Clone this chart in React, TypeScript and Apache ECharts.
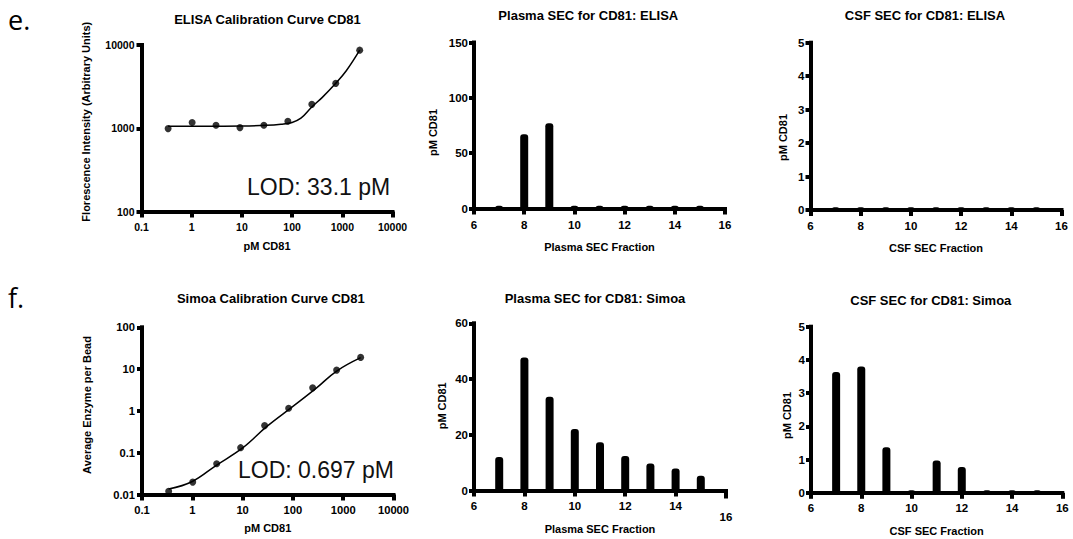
import React, { useEffect, useRef } from "react";
import * as echarts from "echarts";

// ---- Calibration curves ----
const concentrations = [0.339, 1.02, 3.05, 9.14, 27.4, 82.3, 247, 741, 2222];
const elisaSignal = [990, 1170, 1086, 1018, 1086, 1213, 1937, 3460, 8670];
const elisaFitConc = [0.339, 1, 3, 10, 30, 60, 100, 150, 247, 400, 741, 1200, 2222];
const elisaFitSignal = [1055, 1056, 1058, 1063, 1085, 1120, 1175, 1320, 1800, 2350, 3460, 4900, 8670];

const simoaSignal = [0.012, 0.0198, 0.0545, 0.132, 0.445, 1.16, 3.56, 9.46, 19.05];
const simoaFitConc = [0.339, 1, 3, 10, 30, 100, 300, 741, 2222];
const simoaFitSignal = [0.0135, 0.0205, 0.05, 0.13, 0.42, 1.28, 3.6, 9.0, 18.8];

// ---- SEC fractions ----
const fractions = [7, 8, 9, 10, 11, 12, 13, 14, 15];
const plasmaElisa = [2.5, 67, 77, 2.5, 2.5, 2.5, 2.5, 2.5, 2.5];
const csfElisa = [0.08, 0.08, 0.08, 0.08, 0.08, 0.08, 0.08, 0.08, 0.08];
const plasmaSimoa = [12, 47.7, 33.6, 22.1, 17.3, 12.4, 9.7, 7.9, 5.3];
const csfSimoa = [3.64, 3.8, 1.37, 0.08, 0.97, 0.78, 0.08, 0.08, 0.08];

const titles = [
  "ELISA Calibration Curve CD81",
  "Plasma SEC for CD81: ELISA",
  "CSF SEC for CD81: ELISA",
  "Simoa Calibration Curve CD81",
  "Plasma SEC for CD81: Simoa",
  "CSF SEC for CD81: Simoa",
];
const yNames = [
  "Florescence Intensity (Arbitrary Units)",
  "pM CD81",
  "pM CD81",
  "Average Enzyme per Bead",
  "pM CD81",
  "pM CD81",
];
const xNames = ["pM CD81", "Plasma SEC Fraction", "CSF SEC Fraction", "pM CD81", "Plasma SEC Fraction", "CSF SEC Fraction"];
const lodLabels = ["LOD: 33.1 pM", "LOD: 0.697 pM"];
const panelLabels = ["e.", "f."];

const FONT = "Liberation Sans";

export default function App() {
  const ref = useRef<HTMLDivElement>(null);
  useEffect(() => {
    if (!ref.current) return;
    const chart = echarts.init(ref.current, null, { renderer: "svg" });

    const grids = [
      { left: 141.5, top: 45, width: 251, height: 166.5 },
      { left: 474, top: 42.5, width: 251, height: 166 },
      { left: 810.5, top: 42.7, width: 251, height: 167.3 },
      { left: 142, top: 327.3, width: 251.5, height: 167.2 },
      { left: 474, top: 323.3, width: 252, height: 167.2 },
      { left: 811, top: 326.7, width: 251.3, height: 166.1 },
    ];
    const xGaps = [29, 32.7, 32.8, 27.7, 33.3, 32.5];
    const tickFont = [10.5, 11.5, 11.5, 11.2, 11.5, 11.5];

    const mkLine = () => ({ show: true, onZero: false, lineStyle: { color: "#000", width: 4, type: "solid" as const, cap: "square" as const } });
    const mkTick = (len: number) => ({ show: true, inside: false, length: len, lineStyle: { color: "#000", width: 4, type: "solid" as const } });
    const fmtNum = (v: number) => String(parseFloat(Number(v).toPrecision(6)));

    const xAxes: any[] = grids.map((_, i) => {
      const isLog = i === 0 || i === 3;
      const base: any = {
        gridIndex: i,
        position: "bottom",
        name: xNames[i],
        nameLocation: "middle",
        nameGap: xGaps[i],
        nameTextStyle: { fontFamily: FONT, fontWeight: "bold", fontSize: 11, color: "#000" },
        axisLine: mkLine(),
        axisTick: mkTick(6),
        splitLine: { show: false },
        axisLabel: {
          fontFamily: FONT,
          fontWeight: "bold",
          fontSize: tickFont[i],
          color: "#000",
          margin: i < 3 ? 10 : 9.5,
          hideOverlap: false,
          formatter: (v: number) => (i === 4 && v === 16 ? "" : fmtNum(v)),
        },
      };
      if (isLog) return { ...base, type: "log", logBase: 10, min: 0.1, max: 10000 };
      return { ...base, type: "value", min: 6, max: 16, interval: 2 };
    });

    const yAxes: any[] = grids.map((_, i) => {
      const base: any = {
        gridIndex: i,
        position: "left",
        axisLine: mkLine(),
        axisTick: mkTick(5),
        splitLine: { show: false },
        axisLabel: {
          fontFamily: FONT,
          fontWeight: "bold",
          fontSize: tickFont[i],
          color: "#000",
          margin: i === 0 || i === 3 ? 7 : 6,
          hideOverlap: false,
          formatter: (v: number) => fmtNum(v),
        },
      };
      if (i === 0) return { ...base, type: "log", logBase: 10, min: 100, max: 10000 };
      if (i === 3) return { ...base, type: "log", logBase: 10, min: 0.01, max: 100 };
      if (i === 1) return { ...base, type: "value", min: 0, max: 150, interval: 50 };
      if (i === 4) return { ...base, type: "value", min: 0, max: 60, interval: 20 };
      return { ...base, type: "value", min: 0, max: 5, interval: 1 };
    });

    const barSeries = (idx: number, values: number[]) => ({
      type: "bar",
      xAxisIndex: idx,
      yAxisIndex: idx,
      barWidth: 8,
      z: 1,
      itemStyle: { color: "#000", borderRadius: [3, 3, 0, 0] },
      data: fractions.map((f, k) => [f, values[k]]),
    });

    const series: any[] = [
      {
        type: "line",
        xAxisIndex: 0,
        yAxisIndex: 0,
        smooth: 0.4,
        symbol: "none",
        lineStyle: { color: "#000", width: 1.5 },
        data: elisaFitConc.map((c, k) => [c, elisaFitSignal[k]]),
      },
      {
        type: "scatter",
        xAxisIndex: 0,
        yAxisIndex: 0,
        symbolSize: 7,
        itemStyle: { color: "#000" },
        data: concentrations.map((c, k) => [c, elisaSignal[k]]),
      },
      barSeries(1, plasmaElisa),
      barSeries(2, csfElisa),
      {
        type: "line",
        xAxisIndex: 3,
        yAxisIndex: 3,
        smooth: 0.4,
        symbol: "none",
        lineStyle: { color: "#000", width: 1.5 },
        data: simoaFitConc.map((c, k) => [c, simoaFitSignal[k]]),
      },
      {
        type: "scatter",
        xAxisIndex: 3,
        yAxisIndex: 3,
        symbolSize: 7,
        itemStyle: { color: "#000" },
        data: concentrations.map((c, k) => [c, simoaSignal[k]]),
      },
      barSeries(4, plasmaSimoa),
      barSeries(5, csfSimoa),
    ];

    const titlePos = [
      [267.5, 19],
      [588.3, 15],
      [925, 15],
      [270.8, 298.3],
      [595, 298],
      [930.8, 300],
    ];
    const yNamePos = [
      [86, 121.7],
      [433, 132.5],
      [783, 137.5],
      [87, 405],
      [442, 405.8],
      [787, 415.5],
    ];

    const graphic: any[] = [];
    titles.forEach((t, i) => {
      graphic.push({
        type: "text",
        x: titlePos[i][0],
        y: titlePos[i][1],
        style: { text: t, fill: "#000", fontFamily: FONT, fontWeight: "bold", fontSize: 13, align: "center", verticalAlign: "middle" },
      });
    });
    yNames.forEach((t, i) => {
      graphic.push({
        type: "text",
        x: yNamePos[i][0],
        y: yNamePos[i][1],
        rotation: Math.PI / 2,
        style: { text: t, fill: "#000", fontFamily: FONT, fontWeight: "bold", fontSize: 11, align: "center", verticalAlign: "middle" },
      });
    });
    graphic.push({
      type: "text",
      x: 247,
      y: 187,
      style: { text: lodLabels[0], fill: "#111", fontFamily: FONT, fontSize: 23, align: "left", verticalAlign: "middle" },
    });
    graphic.push({
      type: "text",
      x: 238,
      y: 470,
      style: { text: lodLabels[1], fill: "#111", fontFamily: FONT, fontSize: 23, align: "left", verticalAlign: "middle" },
    });
    graphic.push({
      type: "text",
      x: 8,
      y: 19,
      style: { text: panelLabels[0], fill: "#000", fontFamily: "Open Sans", fontSize: 27, align: "left", verticalAlign: "middle" },
    });
    graphic.push({
      type: "text",
      x: 8,
      y: 297,
      style: { text: panelLabels[1], fill: "#000", fontFamily: "Open Sans", fontSize: 27, align: "left", verticalAlign: "middle" },
    });
    // displaced "16" label of the Plasma Simoa panel
    graphic.push({
      type: "text",
      x: 726,
      y: 516.7,
      style: { text: "16", fill: "#000", fontFamily: FONT, fontWeight: "bold", fontSize: 11.5, align: "center", verticalAlign: "middle" },
    });
    graphic.push({
      type: "line",
      shape: { x1: 726, y1: 490, x2: 726, y2: 498.5 },
      style: { stroke: "#000", lineWidth: 4 },
    });

    chart.setOption({
      animation: false,
      backgroundColor: "#fff",
      grid: grids,
      xAxis: xAxes,
      yAxis: yAxes,
      series,
      graphic,
    });
    return () => chart.dispose();
  }, []);

  return (
    <div
      ref={ref}
      style={{ position: "absolute", left: 0, top: 0, width: 1073, height: 539 }}
    />
  );
}
